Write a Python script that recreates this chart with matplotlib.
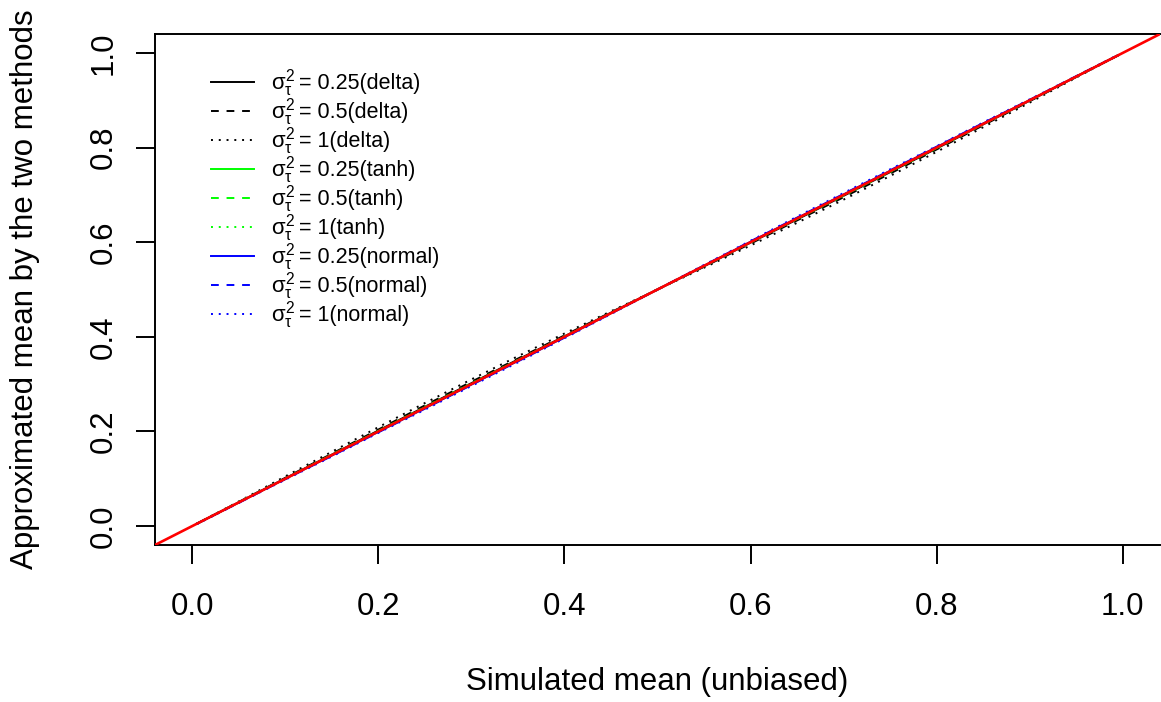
import matplotlib
matplotlib.use("Agg")
import matplotlib.pyplot as plt

plt.rcParams["font.family"] = ["Liberation Sans", "DejaVu Sans"]
plt.rcParams["mathtext.fontset"] = "custom"
plt.rcParams["mathtext.rm"] = "Liberation Sans"
plt.rcParams["mathtext.it"] = "Liberation Sans"
plt.rcParams["mathtext.bf"] = "Liberation Sans:bold"

# simulated (unbiased) means on the x axis
sim_mean = [0.005, 0.05, 0.10, 0.15, 0.20, 0.25, 0.30, 0.35, 0.40, 0.45, 0.50,
            0.55, 0.60, 0.65, 0.70, 0.75, 0.80, 0.85, 0.90, 0.95, 0.995]

# approximated means, delta method
delta_025 = [0.005, 0.050, 0.101, 0.151, 0.202, 0.252, 0.302, 0.352, 0.401, 0.451, 0.500,
             0.549, 0.599, 0.648, 0.698, 0.748, 0.798, 0.849, 0.899, 0.950, 0.995]
delta_05 = [0.005, 0.051, 0.102, 0.153, 0.204, 0.255, 0.305, 0.354, 0.403, 0.452, 0.500,
            0.548, 0.597, 0.646, 0.695, 0.745, 0.796, 0.847, 0.898, 0.949, 0.995]
delta_1 = [0.005, 0.052, 0.105, 0.157, 0.209, 0.260, 0.310, 0.359, 0.407, 0.454, 0.500,
           0.546, 0.593, 0.641, 0.690, 0.740, 0.791, 0.843, 0.895, 0.948, 0.995]

# tanh method
tanh_025 = [0.005, 0.050, 0.100, 0.150, 0.200, 0.250, 0.300, 0.350, 0.400, 0.450, 0.500,
            0.550, 0.600, 0.650, 0.700, 0.750, 0.800, 0.850, 0.900, 0.950, 0.995]
tanh_05 = [0.005, 0.050, 0.100, 0.151, 0.201, 0.251, 0.301, 0.351, 0.400, 0.450, 0.500,
           0.550, 0.600, 0.649, 0.699, 0.749, 0.799, 0.850, 0.900, 0.950, 0.995]
tanh_1 = [0.005, 0.051, 0.101, 0.151, 0.201, 0.252, 0.302, 0.351, 0.401, 0.451, 0.500,
          0.549, 0.599, 0.649, 0.698, 0.748, 0.798, 0.849, 0.899, 0.950, 0.995]

# normal approximation
normal_025 = [0.005, 0.050, 0.100, 0.149, 0.199, 0.249, 0.299, 0.349, 0.399, 0.450, 0.500,
              0.550, 0.601, 0.651, 0.701, 0.751, 0.801, 0.851, 0.900, 0.950, 0.995]
normal_05 = [0.005, 0.049, 0.099, 0.148, 0.198, 0.248, 0.298, 0.348, 0.398, 0.449, 0.500,
             0.551, 0.602, 0.652, 0.702, 0.752, 0.802, 0.852, 0.901, 0.951, 0.995]
normal_1 = [0.004, 0.049, 0.098, 0.147, 0.197, 0.246, 0.296, 0.346, 0.397, 0.448, 0.500,
            0.552, 0.603, 0.654, 0.704, 0.754, 0.803, 0.853, 0.902, 0.951, 0.996]

ticks = [0.0, 0.2, 0.4, 0.6, 0.8, 1.0]
tick_labels = ["0.0", "0.2", "0.4", "0.6", "0.8", "1.0"]

DASH = (0, (4, 4))
DOT = (0, (1, 3))
series = [
    (delta_025, "black", "-", "0.25(delta)"),
    (delta_05, "black", DASH, "0.5(delta)"),
    (delta_1, "black", DOT, "1(delta)"),
    (tanh_025, "#00ff00", "-", "0.25(tanh)"),
    (tanh_05, "#00ff00", DASH, "0.5(tanh)"),
    (tanh_1, "#00ff00", DOT, "1(tanh)"),
    (normal_025, "#0000ff", "-", "0.25(normal)"),
    (normal_05, "#0000ff", DASH, "0.5(normal)"),
    (normal_1, "#0000ff", DOT, "1(normal)"),
]

W, H = 1161, 702
fig = plt.figure(figsize=(W / 100, H / 100), dpi=100)
ax = fig.add_axes([155 / W, (H - 545) / H, (1160 - 155) / W, (545 - 34) / H])

LW = 1.4
for yv, col, ls, _ in series:
    ax.plot(sim_mean, yv, color=col, linestyle=ls, linewidth=LW)

ax.set_xlim(-0.04, 1.04)
ax.set_ylim(-0.04, 1.04)
ax.axline((0, 0), slope=1, color="red", linewidth=1.9, zorder=5)

# legend without frame, rows spaced like the R legend
y0 = 0.939
step = 0.0613
for i, (_, col, ls, lab) in enumerate(series):
    yy = y0 - i * step
    ax.plot([0.020, 0.066], [yy, yy], color=col, linestyle=ls, linewidth=LW)
    ax.text(0.085, yy - 0.016, r"$\sigma_{\tau}^{2}$", fontsize=16,
            va="baseline", ha="left")
    ax.text(0.115, yy - 0.016, "= " + lab, fontsize=15.5,
            va="baseline", ha="left")

ax.set_xticks(ticks)
ax.set_xticklabels(tick_labels)
ax.set_yticks(ticks)
ax.set_yticklabels(tick_labels, rotation=90, va="center")
ax.tick_params(axis="both", labelsize=22.5, length=14, width=1.4, direction="out")
ax.tick_params(axis="x", pad=19.5)
ax.tick_params(axis="y", pad=12)

for side in ["left", "bottom", "top"]:
    ax.spines[side].set_linewidth(1.4)
ax.spines["right"].set_visible(False)

ax.set_xlabel("Simulated mean (unbiased)", fontsize=22.5)
ax.set_ylabel("Approximated mean by the two methods", fontsize=22.5)
ax.xaxis.set_label_coords(0.5, -0.238)
ax.yaxis.set_label_coords(-0.114, 0.5)

fig.savefig("out.png", dpi=100)
